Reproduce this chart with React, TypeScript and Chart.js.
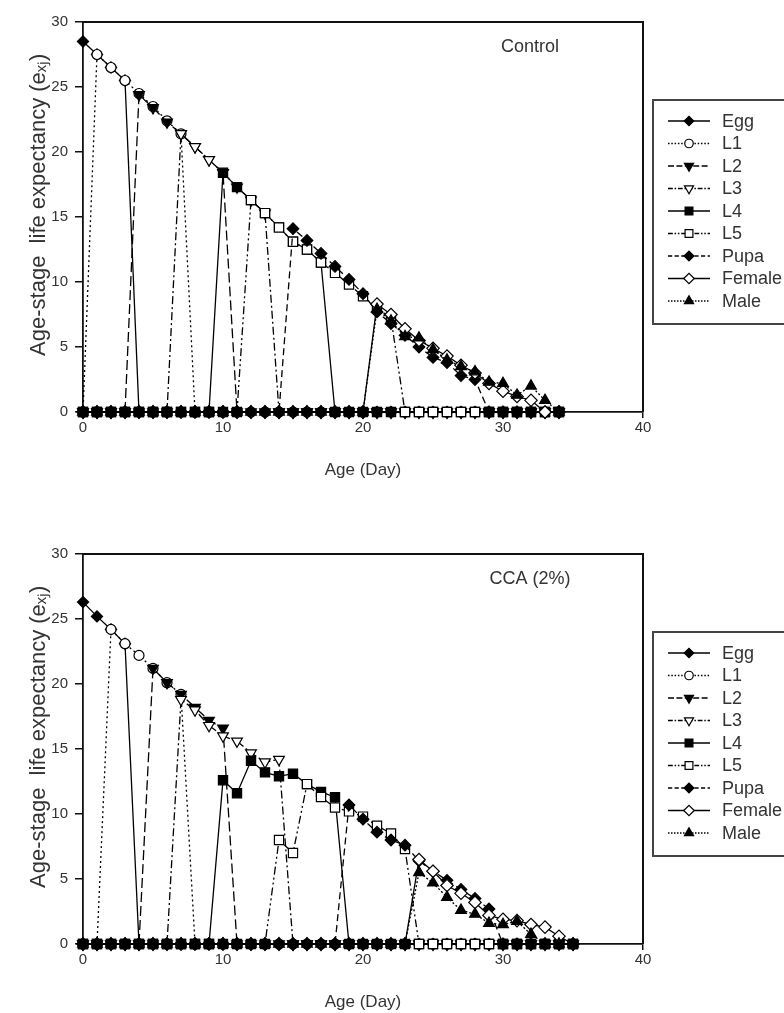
import React, { useEffect, useRef } from "react";
import { Chart, registerables } from "chart.js";

Chart.register(...registerables);

// ---------------- data ----------------
const seriesNames = ["Egg", "L1", "L2", "L3", "L4", "L5", "Pupa", "Female", "Male"];

const xTickValues = [0, 10, 20, 30, 40];
const yTickValues = [0, 5, 10, 15, 20, 25, 30];

// Control (days 0..34)
const controlDays = [
  0, 1, 2, 3, 4, 5, 6, 7, 8, 9,
  10, 11, 12, 13, 14, 15, 16, 17, 18, 19,
  20, 21, 22, 23, 24, 25, 26, 27, 28, 29,
  30, 31, 32, 33, 34,
];
const controlEgg = [
  28.5, 27.5, 26.5, 25.5, 0, 0, 0, 0, 0, 0,
  0, 0, 0, 0, 0, 0, 0, 0, 0, 0,
  0, 0, 0, 0, 0, 0, 0, 0, 0, 0,
  0, 0, 0, 0, 0,
];
const controlL1 = [
  0, 27.5, 26.5, 25.5, 24.5, 23.5, 22.4, 21.4, 0, 0,
  0, 0, 0, 0, 0, 0, 0, 0, 0, 0,
  0, 0, 0, 0, 0, 0, 0, 0, 0, 0,
  0, 0, 0, 0, 0,
];
const controlL2 = [
  0, 0, 0, 0, 24.4, 23.4, 22.3, 21.4, 20.4, 19.4,
  18.4, 0, 0, 0, 0, 0, 0, 0, 0, 0,
  0, 0, 0, 0, 0, 0, 0, 0, 0, 0,
  0, 0, 0, 0, 0,
];
const controlL3 = [
  0, 0, 0, 0, 0, 0, 0, 21.4, 20.4, 19.4,
  18.4, 17.3, 16.3, 15.3, 0, 0, 0, 0, 0, 0,
  0, 0, 0, 0, 0, 0, 0, 0, 0, 0,
  0, 0, 0, 0, 0,
];
const controlL4 = [
  0, 0, 0, 0, 0, 0, 0, 0, 0, 0,
  18.4, 17.3, 16.3, 15.3, 14.2, 13.1, 12.5, 11.5, 0, 0,
  0, 0, 0, 0, 0, 0, 0, 0, 0, 0,
  0, 0, 0, 0, 0,
];
const controlL5 = [
  0, 0, 0, 0, 0, 0, 0, 0, 0, 0,
  0, 0, 16.3, 15.3, 14.2, 13.1, 12.5, 11.5, 10.7, 9.8,
  8.9, 8.0, 7.2, 0, 0, 0, 0, 0, 0, 0,
  0, 0, 0, 0, 0,
];
const controlPupa = [
  0, 0, 0, 0, 0, 0, 0, 0, 0, 0,
  0, 0, 0, 0, 0, 14.1, 13.2, 12.2, 11.2, 10.2,
  9.1, 7.7, 6.8, 5.9, 5.0, 4.2, 3.8, 2.8, 2.5, 0,
  0, 0, 0, 0, 0,
];
const controlFemale = [
  0, 0, 0, 0, 0, 0, 0, 0, 0, 0,
  0, 0, 0, 0, 0, 0, 0, 0, 0, 0,
  0, 8.3, 7.5, 6.4, 5.5, 4.9, 4.3, 3.6, 3.0, 2.2,
  1.6, 1.2, 0.9, 0, 0,
];
const controlMale = [
  0, 0, 0, 0, 0, 0, 0, 0, 0, 0,
  0, 0, 0, 0, 0, 0, 0, 0, 0, 0,
  0, 7.9, 7.0, 5.8, 5.7, 4.8, 4.0, 3.5, 3.1, 2.3,
  2.2, 1.3, 2.0, 0.9, 0,
];

// CCA (2%) (days 0..35)
const ccaDays = [
  0, 1, 2, 3, 4, 5, 6, 7, 8, 9,
  10, 11, 12, 13, 14, 15, 16, 17, 18, 19,
  20, 21, 22, 23, 24, 25, 26, 27, 28, 29,
  30, 31, 32, 33, 34, 35,
];
const ccaEgg = [
  26.3, 25.2, 24.2, 23.1, 0, 0, 0, 0, 0, 0,
  0, 0, 0, 0, 0, 0, 0, 0, 0, 0,
  0, 0, 0, 0, 0, 0, 0, 0, 0, 0,
  0, 0, 0, 0, 0, 0,
];
const ccaL1 = [
  0, 0, 24.2, 23.1, 22.2, 21.2, 20.1, 19.2, 0, 0,
  0, 0, 0, 0, 0, 0, 0, 0, 0, 0,
  0, 0, 0, 0, 0, 0, 0, 0, 0, 0,
  0, 0, 0, 0, 0, 0,
];
const ccaL2 = [
  0, 0, 0, 0, 0, 21.2, 20.1, 19.2, 18.2, 17.2,
  16.6, 0, 0, 0, 0, 0, 0, 0, 0, 0,
  0, 0, 0, 0, 0, 0, 0, 0, 0, 0,
  0, 0, 0, 0, 0, 0,
];
const ccaL3 = [
  0, 0, 0, 0, 0, 0, 0, 18.8, 18.0, 16.8,
  16.0, 15.6, 14.7, 14.0, 14.2, 0, 0, 0, 0, 0,
  0, 0, 0, 0, 0, 0, 0, 0, 0, 0,
  0, 0, 0, 0, 0, 0,
];
const ccaL4 = [
  0, 0, 0, 0, 0, 0, 0, 0, 0, 0,
  12.6, 11.6, 14.1, 13.2, 12.9, 13.1, 12.3, 11.7, 11.3, 0,
  0, 0, 0, 0, 0, 0, 0, 0, 0, 0,
  0, 0, 0, 0, 0, 0,
];
const ccaL5 = [
  0, 0, 0, 0, 0, 0, 0, 0, 0, 0,
  0, 0, 0, 0, 8.0, 7.0, 12.3, 11.3, 10.5, 10.2,
  9.8, 9.1, 8.5, 7.3, 0, 0, 0, 0, 0, 0,
  0, 0, 0, 0, 0, 0,
];
const ccaPupa = [
  0, 0, 0, 0, 0, 0, 0, 0, 0, 0,
  0, 0, 0, 0, 0, 0, 0, 0, 0, 10.7,
  9.6, 8.6, 8.0, 7.6, 6.4, 5.6, 4.9, 4.2, 3.5, 2.7,
  0, 0, 0, 0, 0, 0,
];
const ccaFemale = [
  0, 0, 0, 0, 0, 0, 0, 0, 0, 0,
  0, 0, 0, 0, 0, 0, 0, 0, 0, 0,
  0, 0, 0, 0, 6.5, 5.6, 4.5, 3.9, 3.2, 2.2,
  1.9, 1.8, 1.5, 1.3, 0.6, 0,
];
const ccaMale = [
  0, 0, 0, 0, 0, 0, 0, 0, 0, 0,
  0, 0, 0, 0, 0, 0, 0, 0, 0, 0,
  0, 0, 0, 0, 5.5, 4.7, 3.6, 2.6, 2.3, 1.6,
  1.5, 1.75, 0.75, 0, 0, 0,
];

const controlSeries = [
  controlEgg, controlL1, controlL2, controlL3, controlL4,
  controlL5, controlPupa, controlFemale, controlMale,
];
const ccaSeries = [
  ccaEgg, ccaL1, ccaL2, ccaL3, ccaL4, ccaL5, ccaPupa, ccaFemale, ccaMale,
];

// ---------------- styles ----------------
type MarkStyle = {
  shape: "circle" | "rect" | "rectRot" | "triangle";
  rotation: number;
  filled: boolean;
  radius: number;
  dash: number[];
};

const markStyles: MarkStyle[] = [
  { shape: "rectRot", rotation: 0, filled: true, radius: 5.6, dash: [] }, // Egg
  { shape: "circle", rotation: 0, filled: false, radius: 5, dash: [2, 3] }, // L1
  { shape: "triangle", rotation: 180, filled: true, radius: 6.2, dash: [10, 4] }, // L2
  { shape: "triangle", rotation: 180, filled: false, radius: 6.2, dash: [8, 3, 2, 3] }, // L3
  { shape: "rect", rotation: 0, filled: true, radius: 6.5, dash: [] }, // L4
  { shape: "rect", rotation: 0, filled: false, radius: 6.5, dash: [8, 3, 2, 3, 2, 3] }, // L5
  { shape: "rectRot", rotation: 0, filled: true, radius: 5.8, dash: [7, 4] }, // Pupa
  { shape: "rectRot", rotation: 0, filled: false, radius: 6.2, dash: [] }, // Female
  { shape: "triangle", rotation: 0, filled: true, radius: 6.2, dash: [2, 2] }, // Male
];

const FONT_FAMILY = '"Liberation Sans", Arial, Helvetica, sans-serif';
const TEXT_COLOR = "#333";
const CANVAS_W = 784;
const CANVAS_H = 500;

function drawMarker(ctx: CanvasRenderingContext2D, st: MarkStyle, x: number, y: number) {
  const r = st.radius;
  ctx.beginPath();
  if (st.shape === "circle") {
    ctx.arc(x, y, r, 0, Math.PI * 2);
  } else if (st.shape === "rect") {
    const s = r * Math.SQRT1_2;
    ctx.rect(x - s, y - s, 2 * s, 2 * s);
  } else if (st.shape === "rectRot") {
    ctx.moveTo(x - r, y);
    ctx.lineTo(x, y - r);
    ctx.lineTo(x + r, y);
    ctx.lineTo(x, y + r);
    ctx.closePath();
  } else {
    let rad = (st.rotation * Math.PI) / 180;
    ctx.moveTo(x + Math.sin(rad) * r, y - Math.cos(rad) * r);
    rad += (2 * Math.PI) / 3;
    ctx.lineTo(x + Math.sin(rad) * r, y - Math.cos(rad) * r);
    rad += (2 * Math.PI) / 3;
    ctx.lineTo(x + Math.sin(rad) * r, y - Math.cos(rad) * r);
    ctx.closePath();
  }
  ctx.fillStyle = st.filled ? "#000" : "#fff";
  ctx.fill();
  ctx.setLineDash([]);
  ctx.lineWidth = 1.2;
  ctx.strokeStyle = "#000";
  ctx.stroke();
}

function makeOverlayPlugin(title: string) {
  return {
    id: "overlay",
    afterDraw(chart: any) {
      const ctx: CanvasRenderingContext2D = chart.ctx;
      const a = chart.chartArea;
      ctx.save();
      // frame (top + right)
      ctx.strokeStyle = "#111";
      ctx.lineWidth = 2;
      ctx.setLineDash([]);
      ctx.beginPath();
      ctx.moveTo(a.left, a.top);
      ctx.lineTo(a.right, a.top);
      ctx.lineTo(a.right, a.bottom);
      ctx.stroke();

      // panel title
      ctx.fillStyle = TEXT_COLOR;
      ctx.font = `18px ${FONT_FAMILY}`;
      ctx.textAlign = "center";
      ctx.textBaseline = "middle";
      ctx.fillText(title, 530, 47);

      // legend box
      ctx.strokeStyle = "#444";
      ctx.lineWidth = 2;
      ctx.strokeRect(653, 100, 200, 224);
      ctx.font = `18px ${FONT_FAMILY}`;
      ctx.textAlign = "left";
      seriesNames.forEach((name, i) => {
        const st = markStyles[i];
        const y = 121 + i * 22.5;
        ctx.strokeStyle = "#000";
        ctx.lineWidth = 1.3;
        ctx.setLineDash(st.dash.length ? st.dash.map((d) => Math.max(1.5, d * 0.6)) : []);
        ctx.beginPath();
        ctx.moveTo(668, y);
        ctx.lineTo(710, y);
        ctx.stroke();
        drawMarker(ctx, { ...st, radius: st.radius * 0.85 }, 689, y);
        ctx.fillStyle = TEXT_COLOR;
        ctx.fillText(name, 722, y + 1);
      });
      ctx.restore();
    },
  };
}

function LifeChart({ days, series, title, top }: { days: number[]; series: number[][]; title: string; top: number }) {
  const ref = useRef<HTMLCanvasElement>(null);
  useEffect(() => {
    const canvas = ref.current;
    if (!canvas) return;
    const datasets = series.map((vals, idx) => {
      const st = markStyles[idx];
      // open symbols lying under another zero-valued symbol are not painted white
      const fills = vals.map((v, i) => {
        if (st.filled) return "#000";
        if (v !== 0) return "#fff";
        const covered = series.slice(idx + 1).some((s) => s[i] === 0);
        return covered ? "rgba(0,0,0,0)" : "#fff";
      });
      return {
        label: seriesNames[idx],
        data: days.map((d, i) => ({ x: d, y: vals[i] })),
        borderColor: "#000",
        borderWidth: 1.3,
        borderDash: st.dash,
        pointStyle: st.shape,
        pointRotation: st.rotation,
        pointRadius: st.radius,
        pointBackgroundColor: fills,
        pointBorderColor: "#000",
        pointBorderWidth: 1.2,
        tension: 0,
        fill: false,
        clip: false,
        order: seriesNames.length - idx,
      };
    });
    const chart = new Chart(canvas, {
      type: "line",
      data: { datasets: datasets as any },
      options: {
        responsive: false,
        animation: false,
        devicePixelRatio: 1,
        layout: { padding: { left: 0, top: 22, right: CANVAS_W - 643, bottom: 0 } },
        plugins: { legend: { display: false }, tooltip: { enabled: false } },
        scales: {
          x: {
            type: "linear",
            min: 0,
            max: 40,
            afterBuildTicks: (s: any) => {
              s.ticks = xTickValues.map((v) => ({ value: v }));
            },
            afterFit: (s: any) => {
              s.height = CANVAS_H - 412;
            },
            ticks: { color: TEXT_COLOR, font: { family: FONT_FAMILY, size: 15 }, padding: 1, maxRotation: 0 },
            grid: { display: true, drawOnChartArea: false, drawTicks: true, tickLength: 6, color: "#111", lineWidth: 1.5 },
            border: { display: true, color: "#111", width: 1.8 },
            title: {
              display: true,
              text: "Age (Day)",
              color: TEXT_COLOR,
              font: { family: FONT_FAMILY, size: 17 },
              padding: { top: 0, bottom: 19 },
            },
          },
          y: {
            type: "linear",
            min: 0,
            max: 30,
            afterBuildTicks: (s: any) => {
              s.ticks = yTickValues.map((v) => ({ value: v }));
            },
            afterFit: (s: any) => {
              s.width = 83;
            },
            ticks: { color: TEXT_COLOR, font: { family: FONT_FAMILY, size: 15 }, padding: 7 },
            grid: { display: true, drawOnChartArea: false, drawTicks: true, tickLength: 8, color: "#111", lineWidth: 1.5 },
            border: { display: true, color: "#111", width: 1.8 },
            title: {
              display: true,
              text: "    Age-stage  life expectancy (eₓⱼ)",
              color: TEXT_COLOR,
              font: { family: FONT_FAMILY, size: 22 },
              padding: { top: 26, bottom: 0 },
            },
          },
        },
      },
      plugins: [makeOverlayPlugin(title)],
    } as any);
    return () => chart.destroy();
  }, []);
  return (
    <canvas
      ref={ref}
      width={CANVAS_W}
      height={CANVAS_H}
      style={{ position: "absolute", left: 0, top }}
    />
  );
}

export default function App() {
  return (
    <div
      style={{
        position: "absolute",
        left: 0,
        top: 0,
        width: 784,
        height: 1013,
        overflow: "hidden",
        background: "#fff",
      }}
    >
      <LifeChart days={controlDays} series={controlSeries} title="Control" top={0} />
      <LifeChart days={ccaDays} series={ccaSeries} title="CCA (2%)" top={532} />
    </div>
  );
}
